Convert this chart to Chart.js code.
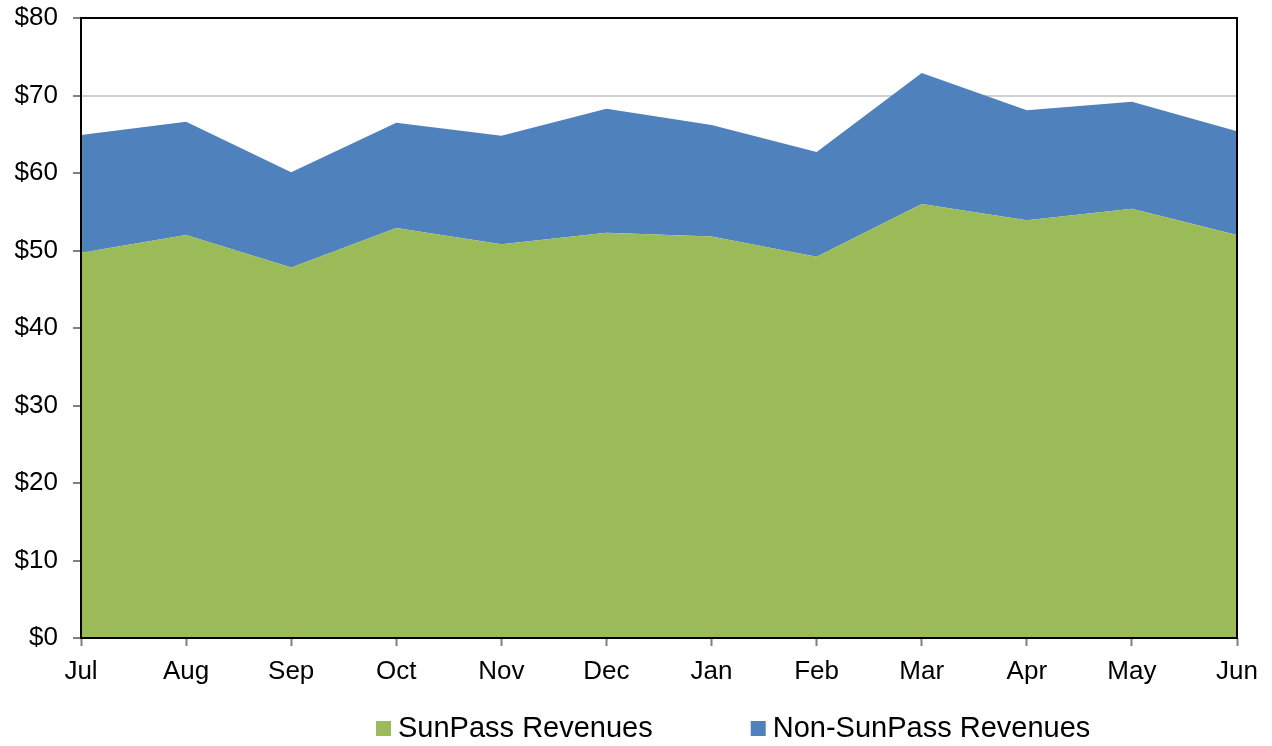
<!DOCTYPE html>
<html>
<head>
<meta charset="utf-8">
<script src="https://cdn.jsdelivr.net/npm/chart.js@4"></script>
<style>
  body { margin: 0; background: #fff; }
  #wrap { width: 1272px; height: 746px; position: relative; }
</style>
</head>
<body>
<div id="wrap"><canvas id="myChart"></canvas></div>
<script>
const months = ["Jul", "Aug", "Sep", "Oct", "Nov", "Dec", "Jan", "Feb", "Mar", "Apr", "May", "Jun"];
const sunpassRevenues = [49.7, 52.0, 47.8, 52.9, 50.8, 52.3, 51.8, 49.2, 56.0, 53.9, 55.4, 52.0];
const nonSunpassRevenues = [15.2, 14.6, 12.3, 13.6, 14.0, 16.0, 14.4, 13.5, 16.9, 14.2, 13.8, 13.4];
const seriesNames = ["SunPass Revenues", "Non-SunPass Revenues"];
const yMin = 0;
const yMax = 80;
const yStep = 10;

const FONT = "'Liberation Sans', Arial, sans-serif";

// frame round the plot area
const frame = {
  id: "frame",
  afterDatasetsDraw(chart) {
    const a = chart.chartArea;
    const c = chart.ctx;
    c.save();
    c.strokeStyle = "#000";
    c.lineWidth = 2;
    c.strokeRect(a.left, a.top, a.right - a.left, a.bottom - a.top);
    c.restore();
  }
};

// legend drawn below the axis labels
const bottomLegend = {
  id: "bottomLegend",
  afterDraw(chart) {
    const c = chart.ctx;
    c.save();
    c.font = "29px " + FONT;
    c.textBaseline = "middle";
    let x = 376;
    const y = 728;
    chart.data.datasets.forEach(function (ds) {
      c.fillStyle = ds.backgroundColor;
      c.fillRect(x, y - 7, 15, 15);
      c.fillStyle = "#000";
      c.fillText(ds.label, x + 22, y + 1);
      x += 22 + c.measureText(ds.label).width + 98;
    });
    c.restore();
  }
};

const ctx = document.getElementById("myChart");

new Chart(ctx, {
  type: "line",
  data: {
    labels: months,
    datasets: [
      {
        label: seriesNames[0],
        data: sunpassRevenues,
        backgroundColor: "#9BBB59",
        borderWidth: 0,
        pointRadius: 0,
        fill: "origin"
      },
      {
        label: seriesNames[1],
        data: nonSunpassRevenues,
        backgroundColor: "#4F81BD",
        borderWidth: 0,
        pointRadius: 0,
        fill: "-1"
      }
    ]
  },
  options: {
    responsive: true,
    maintainAspectRatio: false,
    animation: false,
    layout: { padding: { top: 18, right: 35, left: 0, bottom: 56 } },
    plugins: {
      legend: { display: false },
      tooltip: { enabled: false }
    },
    scales: {
      x: {
        offset: false,
        afterFit: function (s) {
          s.height = 52;
          s.paddingLeft = 0;
          s.paddingRight = 0;
        },
        grid: {
          drawOnChartArea: false,
          tickLength: 8,
          tickColor: "#808080",
          tickWidth: 2
        },
        border: { display: false },
        ticks: {
          color: "#000",
          padding: 10,
          maxRotation: 0,
          font: { family: FONT, size: 26 }
        }
      },
      y: {
        stacked: true,
        min: yMin,
        max: yMax,
        afterFit: function (s) {
          s.width = 81;
          s.paddingTop = 0;
          s.paddingBottom = 0;
        },
        grid: {
          color: "#d0d0d0",
          lineWidth: 2,
          tickLength: 8,
          tickColor: "#808080",
          tickWidth: 2
        },
        border: { display: false },
        ticks: {
          stepSize: yStep,
          color: "#000",
          padding: 15,
          font: { family: FONT, size: 26 },
          callback: function (v) { return "$" + v; }
        }
      }
    }
  },
  plugins: [frame, bottomLegend]
});
</script>
</body>
</html>
